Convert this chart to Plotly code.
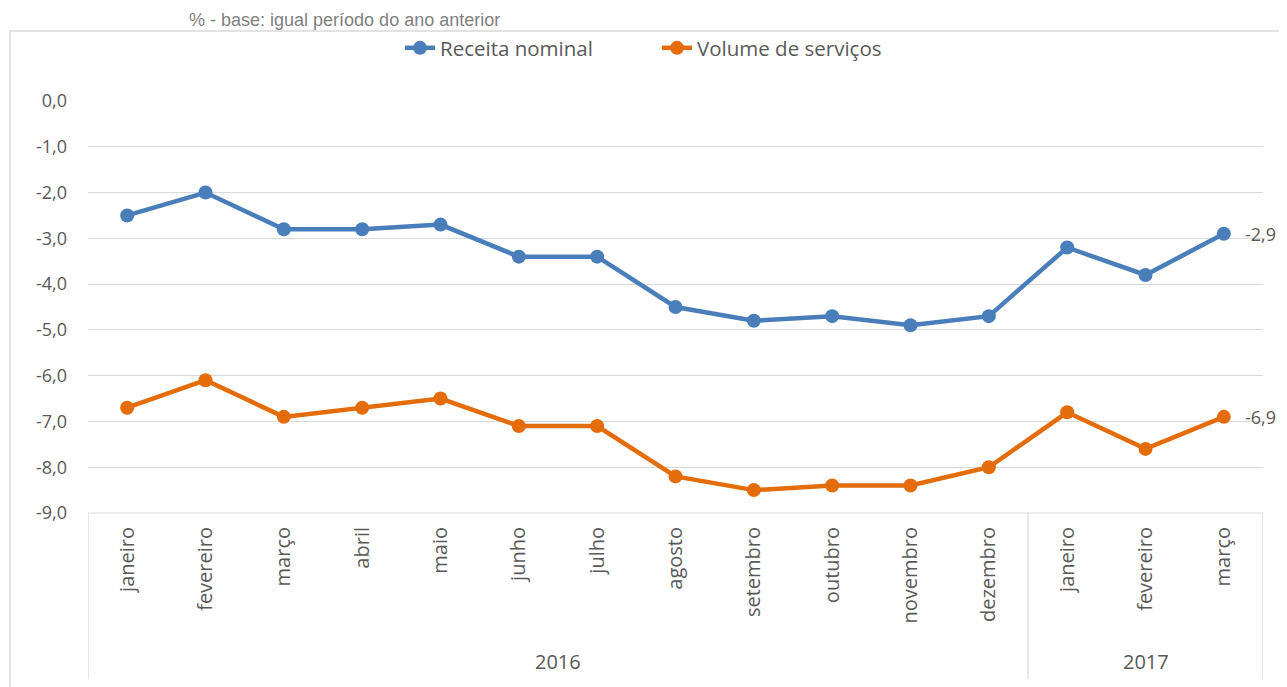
import plotly.graph_objects as go

months = ["janeiro", "fevereiro", "março", "abril", "maio", "junho", "julho", "agosto",
          "setembro", "outubro", "novembro", "dezembro", "janeiro", "fevereiro", "março"]
years = ["2016", "2017"]
year_counts = [12, 3]
receita = [-2.5, -2.0, -2.8, -2.8, -2.7, -3.4, -3.4, -4.5, -4.8, -4.7, -4.9, -4.7, -3.2, -3.8, -2.9]
volume = [-6.7, -6.1, -6.9, -6.7, -6.5, -7.1, -7.1, -8.2, -8.5, -8.4, -8.4, -8.0, -6.8, -7.6, -6.9]
ytick_vals = [0, -1, -2, -3, -4, -5, -6, -7, -8, -9]
ytick_text = ["0,0", "-1,0", "-2,0", "-3,0", "-4,0", "-5,0", "-6,0", "-7,0", "-8,0", "-9,0"]
series_names = ["Receita nominal", "Volume de serviços"]
colors = ["#4A7EBB", "#E46C0A"]
subtitle = "% - base: igual período do ano anterior"

# page has an 8px body margin; figure sized to fit the viewport
OFF = 8
W, H = 1287 - OFF, 687 - OFF
L, R, T, B = 88 - OFF, W - (1263 - OFF), 101 - OFF, H - (513 - OFF)
pw, ph = W - L - R, H - T - B
FONT = "Open Sans, sans-serif"
TXT = "#595959"

def fmt(v):
    return ("%.1f" % v).replace(".", ",")

def px_x(p):
    return (p - OFF - L) / pw

def px_y(p):
    return 1 - (p - OFF - T) / ph

x = list(range(len(months)))
fig = go.Figure()
annotations = []
for name, vals, col in zip(series_names, [receita, volume], colors):
    fig.add_trace(go.Scatter(
        x=x, y=vals, name=name, mode="lines+markers",
        line=dict(color=col, width=4.5), marker=dict(color=col, size=14),
        cliponaxis=False,
    ))
    annotations.append(dict(x=x[-1], y=vals[-1], xref="x", yref="y", text=fmt(vals[-1]),
                            showarrow=False, xanchor="left", yanchor="middle", xshift=19,
                            font=dict(family=FONT, size=18, color=TXT)))

shapes = []
# outer chart border
shapes.append(dict(type="rect", xref="paper", yref="paper",
                   x0=px_x(10), x1=px_x(1300), y0=px_y(700), y1=px_y(31),
                   line=dict(color="#D9D9D9", width=1.5), fillcolor="rgba(0,0,0,0)", layer="below"))
# category axis box lines
bounds = [-0.5]
acc = -0.5
for c in year_counts:
    acc += c
    bounds.append(acc)
for b in bounds:
    shapes.append(dict(type="line", xref="x", yref="paper", x0=b, x1=b,
                       y0=px_y(513), y1=px_y(679), line=dict(color="#D9D9D9", width=1.2)))
shapes.append(dict(type="line", xref="x", yref="paper", x0=-0.5, x1=bounds[-1],
                   y0=0, y1=0, line=dict(color="#D9D9D9", width=1.2)))

start = -0.5
for yr, c in zip(years, year_counts):
    annotations.append(dict(x=start + c / 2, y=px_y(661), xref="x", yref="paper",
                            text=yr, showarrow=False, yanchor="middle",
                            font=dict(family=FONT, size=20, color=TXT)))
    start += c
annotations.append(dict(x=px_x(344), y=px_y(OFF), xref="paper", yref="paper",
                        text=subtitle, showarrow=False,
                        yanchor="top", xanchor="center",
                        font=dict(family="Liberation Sans, Arial, sans-serif", size=18, color="#7F7F7F")))

fig.update_layout(
    width=W, height=H,
    margin=dict(l=L, r=R, t=T, b=B, autoexpand=False),
    paper_bgcolor="white", plot_bgcolor="white",
    showlegend=True,
    legend=dict(orientation="h", x=px_x(400), xanchor="left", y=px_y(48), yanchor="middle",
                font=dict(family=FONT, size=20.5, color=TXT),
                entrywidth=212, entrywidthmode="pixels",
                tracegroupgap=0, bgcolor="rgba(0,0,0,0)"),
    xaxis=dict(range=[-0.5, len(months) - 0.5], tickvals=x, ticktext=months, tickangle=-90,
               showgrid=False, zeroline=False, showline=False, ticks="",
               tickfont=dict(family=FONT, size=20, color=TXT),
               ticklabelstandoff=9),
    yaxis=dict(range=[-9, 0], tickvals=ytick_vals, ticktext=ytick_text,
               showgrid=True, gridcolor="#D9D9D9", gridwidth=1, zeroline=False, showline=False,
               ticks="", tickfont=dict(family=FONT, size=18, color=TXT),
               ticklabelstandoff=20),
    shapes=shapes, annotations=annotations,
)

fig.write_html("out.html")
